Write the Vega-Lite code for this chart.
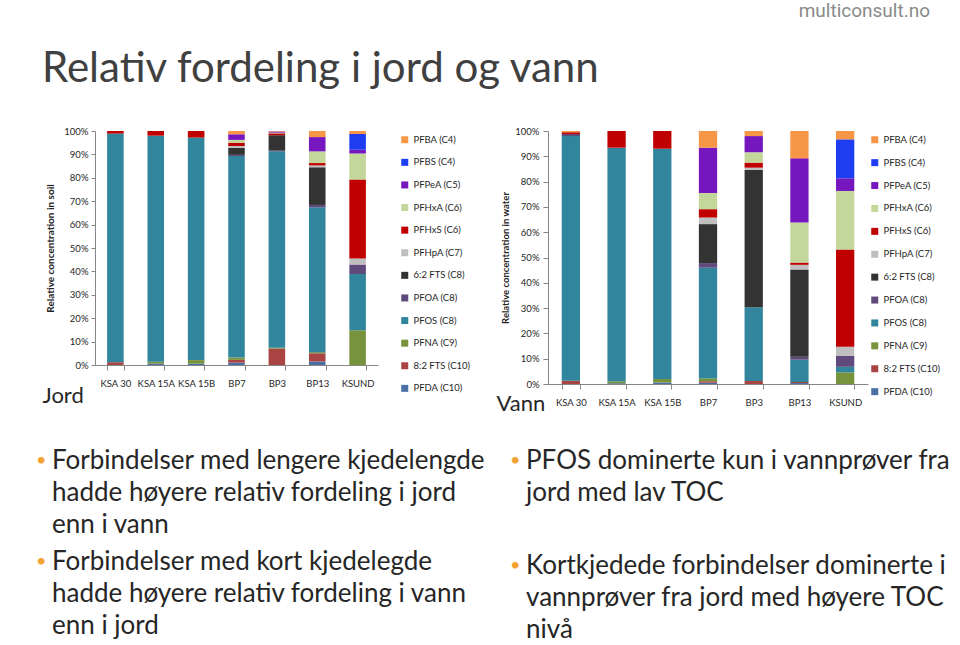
{
  "$schema": "https://vega.github.io/schema/vega-lite/v6.json",
  "background": "white",
  "padding": {"left": 36, "top": 2, "right": 0, "bottom": 0},
  "config": {
    "view": {"stroke": null},
    "font": "Lato",
    "axis": {"labelFont": "Lato", "titleFont": "Lato", "domainColor": "#868686", "tickColor": "#868686", "labelColor": "#262626", "titleColor": "#262626", "grid": false},
    "legend": {"labelFont": "Lato", "labelColor": "#262626", "symbolType": "square", "symbolSize": 49, "symbolStrokeWidth": 0, "labelFontSize": 9.5, "labelOffset": 4, "padding": 4}
  },
  "datasets": {
    "compounds": [
      {"compound": "PFBA (C4)", "rank": 1},
      {"compound": "PFBS (C4)", "rank": 2},
      {"compound": "PFPeA (C5)", "rank": 3},
      {"compound": "PFHxA (C6)", "rank": 4},
      {"compound": "PFHxS (C6)", "rank": 5},
      {"compound": "PFHpA (C7)", "rank": 6},
      {"compound": "6:2 FTS (C8)", "rank": 7},
      {"compound": "PFOA (C8)", "rank": 8},
      {"compound": "PFOS (C8)", "rank": 9},
      {"compound": "PFNA (C9)", "rank": 10},
      {"compound": "8:2 FTS (C10)", "rank": 11},
      {"compound": "PFDA (C10)", "rank": 12}
    ],
    "soil": [
      {"sample": "KSA 30", "compound": "8:2 FTS (C10)", "pct": 1.2},
      {"sample": "KSA 30", "compound": "PFOS (C8)", "pct": 97.7},
      {"sample": "KSA 30", "compound": "PFHxS (C6)", "pct": 1.1},
      {"sample": "KSA 15A", "compound": "PFDA (C10)", "pct": 0.6},
      {"sample": "KSA 15A", "compound": "PFNA (C9)", "pct": 0.8},
      {"sample": "KSA 15A", "compound": "PFOS (C8)", "pct": 96.6},
      {"sample": "KSA 15A", "compound": "PFHxS (C6)", "pct": 2.0},
      {"sample": "KSA 15B", "compound": "PFDA (C10)", "pct": 0.6},
      {"sample": "KSA 15B", "compound": "PFNA (C9)", "pct": 1.5},
      {"sample": "KSA 15B", "compound": "PFOS (C8)", "pct": 95.1},
      {"sample": "KSA 15B", "compound": "PFHxS (C6)", "pct": 2.8},
      {"sample": "BP7", "compound": "PFDA (C10)", "pct": 1.0},
      {"sample": "BP7", "compound": "8:2 FTS (C10)", "pct": 1.2},
      {"sample": "BP7", "compound": "PFNA (C9)", "pct": 1.0},
      {"sample": "BP7", "compound": "PFOS (C8)", "pct": 86.1},
      {"sample": "BP7", "compound": "PFOA (C8)", "pct": 0.5},
      {"sample": "BP7", "compound": "6:2 FTS (C8)", "pct": 3.0},
      {"sample": "BP7", "compound": "PFHpA (C7)", "pct": 0.8},
      {"sample": "BP7", "compound": "PFHxS (C6)", "pct": 1.4},
      {"sample": "BP7", "compound": "PFHxA (C6)", "pct": 1.2},
      {"sample": "BP7", "compound": "PFPeA (C5)", "pct": 2.4},
      {"sample": "BP7", "compound": "PFBA (C4)", "pct": 1.4},
      {"sample": "BP3", "compound": "8:2 FTS (C10)", "pct": 7.0},
      {"sample": "BP3", "compound": "PFNA (C9)", "pct": 0.4},
      {"sample": "BP3", "compound": "PFOS (C8)", "pct": 83.9},
      {"sample": "BP3", "compound": "PFOA (C8)", "pct": 0.3},
      {"sample": "BP3", "compound": "6:2 FTS (C8)", "pct": 6.6},
      {"sample": "BP3", "compound": "PFHxS (C6)", "pct": 0.8},
      {"sample": "BP3", "compound": "PFHxA (C6)", "pct": 0.3},
      {"sample": "BP3", "compound": "PFPeA (C5)", "pct": 0.5},
      {"sample": "BP3", "compound": "PFBA (C4)", "pct": 0.2},
      {"sample": "BP13", "compound": "PFDA (C10)", "pct": 1.5},
      {"sample": "BP13", "compound": "8:2 FTS (C10)", "pct": 3.5},
      {"sample": "BP13", "compound": "PFNA (C9)", "pct": 0.5},
      {"sample": "BP13", "compound": "PFOS (C8)", "pct": 61.9},
      {"sample": "BP13", "compound": "PFOA (C8)", "pct": 1.0},
      {"sample": "BP13", "compound": "6:2 FTS (C8)", "pct": 16.1},
      {"sample": "BP13", "compound": "PFHpA (C7)", "pct": 0.8},
      {"sample": "BP13", "compound": "PFHxS (C6)", "pct": 1.0},
      {"sample": "BP13", "compound": "PFHxA (C6)", "pct": 5.0},
      {"sample": "BP13", "compound": "PFPeA (C5)", "pct": 6.1},
      {"sample": "BP13", "compound": "PFBA (C4)", "pct": 2.6},
      {"sample": "KSUND", "compound": "PFNA (C9)", "pct": 14.9},
      {"sample": "KSUND", "compound": "PFOS (C8)", "pct": 24.0},
      {"sample": "KSUND", "compound": "PFOA (C8)", "pct": 4.0},
      {"sample": "KSUND", "compound": "PFHpA (C7)", "pct": 2.6},
      {"sample": "KSUND", "compound": "PFHxS (C6)", "pct": 33.8},
      {"sample": "KSUND", "compound": "PFHxA (C6)", "pct": 11.1},
      {"sample": "KSUND", "compound": "PFPeA (C5)", "pct": 1.6},
      {"sample": "KSUND", "compound": "PFBS (C4)", "pct": 6.7},
      {"sample": "KSUND", "compound": "PFBA (C4)", "pct": 1.3}
    ],
    "water": [
      {"sample": "KSA 30", "compound": "8:2 FTS (C10)", "pct": 1.3},
      {"sample": "KSA 30", "compound": "PFOS (C8)", "pct": 96.7},
      {"sample": "KSA 30", "compound": "PFOA (C8)", "pct": 0.8},
      {"sample": "KSA 30", "compound": "PFHxS (C6)", "pct": 0.7},
      {"sample": "KSA 30", "compound": "PFBA (C4)", "pct": 0.5},
      {"sample": "KSA 15A", "compound": "PFDA (C10)", "pct": 0.3},
      {"sample": "KSA 15A", "compound": "PFNA (C9)", "pct": 0.8},
      {"sample": "KSA 15A", "compound": "PFOS (C8)", "pct": 92.3},
      {"sample": "KSA 15A", "compound": "PFHxS (C6)", "pct": 6.6},
      {"sample": "KSA 15B", "compound": "PFDA (C10)", "pct": 0.6},
      {"sample": "KSA 15B", "compound": "PFNA (C9)", "pct": 1.4},
      {"sample": "KSA 15B", "compound": "PFOS (C8)", "pct": 91.0},
      {"sample": "KSA 15B", "compound": "PFHxS (C6)", "pct": 7.0},
      {"sample": "BP7", "compound": "PFDA (C10)", "pct": 0.5},
      {"sample": "BP7", "compound": "8:2 FTS (C10)", "pct": 0.6},
      {"sample": "BP7", "compound": "PFNA (C9)", "pct": 1.1},
      {"sample": "BP7", "compound": "PFOS (C8)", "pct": 43.8},
      {"sample": "BP7", "compound": "PFOA (C8)", "pct": 1.8},
      {"sample": "BP7", "compound": "6:2 FTS (C8)", "pct": 15.4},
      {"sample": "BP7", "compound": "PFHpA (C7)", "pct": 2.6},
      {"sample": "BP7", "compound": "PFHxS (C6)", "pct": 3.3},
      {"sample": "BP7", "compound": "PFHxA (C6)", "pct": 6.4},
      {"sample": "BP7", "compound": "PFPeA (C5)", "pct": 17.9},
      {"sample": "BP7", "compound": "PFBA (C4)", "pct": 6.6},
      {"sample": "BP3", "compound": "8:2 FTS (C10)", "pct": 1.2},
      {"sample": "BP3", "compound": "PFOS (C8)", "pct": 29.1},
      {"sample": "BP3", "compound": "6:2 FTS (C8)", "pct": 54.4},
      {"sample": "BP3", "compound": "PFHpA (C7)", "pct": 0.8},
      {"sample": "BP3", "compound": "PFHxS (C6)", "pct": 2.0},
      {"sample": "BP3", "compound": "PFHxA (C6)", "pct": 4.1},
      {"sample": "BP3", "compound": "PFPeA (C5)", "pct": 6.4},
      {"sample": "BP3", "compound": "PFBA (C4)", "pct": 2.0},
      {"sample": "BP13", "compound": "PFDA (C10)", "pct": 0.4},
      {"sample": "BP13", "compound": "8:2 FTS (C10)", "pct": 0.4},
      {"sample": "BP13", "compound": "PFOS (C8)", "pct": 8.8},
      {"sample": "BP13", "compound": "PFOA (C8)", "pct": 1.2},
      {"sample": "BP13", "compound": "6:2 FTS (C8)", "pct": 34.5},
      {"sample": "BP13", "compound": "PFHpA (C7)", "pct": 1.8},
      {"sample": "BP13", "compound": "PFHxS (C6)", "pct": 0.9},
      {"sample": "BP13", "compound": "PFHxA (C6)", "pct": 15.8},
      {"sample": "BP13", "compound": "PFPeA (C5)", "pct": 25.4},
      {"sample": "BP13", "compound": "PFBA (C4)", "pct": 10.8},
      {"sample": "KSUND", "compound": "PFNA (C9)", "pct": 4.6},
      {"sample": "KSUND", "compound": "PFOS (C8)", "pct": 2.2},
      {"sample": "KSUND", "compound": "PFOA (C8)", "pct": 4.4},
      {"sample": "KSUND", "compound": "PFHpA (C7)", "pct": 3.5},
      {"sample": "KSUND", "compound": "PFHxS (C6)", "pct": 38.5},
      {"sample": "KSUND", "compound": "PFHxA (C6)", "pct": 23.1},
      {"sample": "KSUND", "compound": "PFPeA (C5)", "pct": 5.0},
      {"sample": "KSUND", "compound": "PFBS (C4)", "pct": 15.4},
      {"sample": "KSUND", "compound": "PFBA (C4)", "pct": 3.3}
    ],
    "notes": [
      {"col": "left", "para": 1, "text": "Forbindelser med lengere kjedelengde\nhadde høyere relativ fordeling i jord\nenn i vann"},
      {"col": "left", "para": 2, "text": "Forbindelser med kort kjedelegde\nhadde høyere relativ fordeling i vann\nenn i jord"},
      {"col": "right", "para": 1, "text": "PFOS dominerte kun i vannprøver fra\njord med lav TOC"},
      {"col": "right", "para": 2, "text": "Kortkjedede forbindelser dominerte i\nvannprøver fra jord med høyere TOC\nnivå"}
    ]
  },
  "columns": 2,
  "bounds": "flush",
  "spacing": {"row": 64, "column": 170},
  "resolve": {"scale": {"color": "independent", "x": "independent", "y": "independent"}, "legend": {"color": "independent"}},
  "concat": [
    {
      "title": {"text": "Relativ fordeling i jord og vann", "anchor": "start", "font": "Lato", "fontSize": 42, "fontWeight": "normal", "color": "#404040", "offset": 35},
      "width": 283,
      "height": 234,
      "data": {"name": "soil"},
      "transform": [{"lookup": "compound", "from": {"data": {"name": "compounds"}, "key": "compound", "fields": ["rank"]}}],
      "mark": {"type": "bar"},
      "encoding": {
        "x": {"field": "sample", "type": "nominal", "sort": ["KSA 30", "KSA 15A", "KSA 15B", "BP7", "BP3", "BP13", "KSUND"], "scale": {"paddingInner": 0.59, "paddingOuter": 0.3},
          "axis": {"title": "Jord", "titleFontSize": 22, "titleFontWeight": "normal", "titleAnchor": "start", "titleAlign": "left", "titleBaseline": "middle", "titleX": -53, "titleY": 30, "labelAngle": 0, "labelFontSize": 9.5, "labelPadding": 8, "tickBand": "extent", "tickSize": 5}},
        "y": {"field": "pct", "type": "quantitative", "stack": "normalize", "scale": {"domain": [0, 1]},
          "axis": {"format": ".0%", "values": [0, 0.1, 0.2, 0.3, 0.4, 0.5, 0.6, 0.7, 0.8, 0.9, 1], "title": "Relative concentration in soil", "titleFontSize": 10, "titleFontWeight": "bold", "titlePadding": 8, "labelFontSize": 9.5, "tickSize": 4, "labelPadding": 3}},
        "color": {"field": "compound", "type": "nominal",
          "scale": {"domain": ["PFBA (C4)", "PFBS (C4)", "PFPeA (C5)", "PFHxA (C6)", "PFHxS (C6)", "PFHpA (C7)", "6:2 FTS (C8)", "PFOA (C8)", "PFOS (C8)", "PFNA (C9)", "8:2 FTS (C10)", "PFDA (C10)"],
            "range": ["#F79646", "#1E3CF0", "#7616BE", "#C4D79B", "#C00000", "#BFBFBF", "#333333", "#604A7B", "#31859C", "#77933C", "#A94442", "#4A6FA5"]},
          "legend": {"title": null, "rowPadding": 11.6, "offset": 18}},
        "order": {"field": "rank", "type": "quantitative", "sort": "descending"}
      }
    },
    {
      "title": {"text": "multiconsult.no", "anchor": "end", "font": "Roboto, sans-serif", "fontSize": 19, "fontWeight": "normal", "color": "#8a8a8a", "offset": 105, "dx": -15},
      "width": 320,
      "height": 253,
      "data": {"name": "water"},
      "transform": [{"lookup": "compound", "from": {"data": {"name": "compounds"}, "key": "compound", "fields": ["rank"]}}],
      "mark": {"type": "bar"},
      "encoding": {
        "x": {"field": "sample", "type": "nominal", "sort": ["KSA 30", "KSA 15A", "KSA 15B", "BP7", "BP3", "BP13", "KSUND"], "scale": {"paddingInner": 0.6, "paddingOuter": 0.3},
          "axis": {"title": "Vann", "titleFontSize": 22, "titleFontWeight": "normal", "titleAnchor": "start", "titleAlign": "left", "titleBaseline": "middle", "titleX": -52, "titleY": 19, "labelAngle": 0, "labelFontSize": 9.5, "labelPadding": 8, "tickBand": "extent", "tickSize": 5}},
        "y": {"field": "pct", "type": "quantitative", "stack": "normalize", "scale": {"domain": [0, 1]},
          "axis": {"format": ".0%", "values": [0, 0.1, 0.2, 0.3, 0.4, 0.5, 0.6, 0.7, 0.8, 0.9, 1], "title": "Relative concentration in water", "titleFontSize": 9.5, "titleFontWeight": "bold", "titlePadding": 4, "labelFontSize": 9.5, "tickSize": 5, "labelPadding": 4}},
        "color": {"field": "compound", "type": "nominal",
          "scale": {"domain": ["PFBA (C4)", "PFBS (C4)", "PFPeA (C5)", "PFHxA (C6)", "PFHxS (C6)", "PFHpA (C7)", "6:2 FTS (C8)", "PFOA (C8)", "PFOS (C8)", "PFNA (C9)", "8:2 FTS (C10)", "PFDA (C10)"],
            "range": ["#F79646", "#1E3CF0", "#7616BE", "#C4D79B", "#C00000", "#BFBFBF", "#333333", "#604A7B", "#31859C", "#77933C", "#A94442", "#4A6FA5"]},
          "legend": {"title": null, "rowPadding": 11.9, "offset": -2}},
        "order": {"field": "rank", "type": "quantitative", "sort": "descending"}
      }
    },
    {
      "width": 283,
      "height": 150,
      "data": {"name": "notes"},
      "transform": [{"filter": {"field": "col", "equal": "left"}}],
      "encoding": {
        "x": {"field": "col", "type": "nominal", "scale": {"type": "point", "range": [-59, -59], "padding": 0}, "axis": null},
        "y": {"field": "para", "type": "ordinal", "scale": {"type": "point", "domain": [1, 2], "range": [0, 101], "padding": 0}, "axis": null}
      },
      "layer": [
        {"mark": {"type": "text", "text": "•", "color": "#F4A234", "fontSize": 18, "align": "left", "baseline": "top", "dy": 4, "font": "Lato"}},
        {"mark": {"type": "text", "align": "left", "baseline": "top", "fontSize": 26, "lineHeight": 32, "lineBreak": "\n", "dx": 16, "color": "#262626", "font": "Lato"}, "encoding": {"text": {"field": "text"}}}
      ]
    },
    {
      "width": 320,
      "height": 150,
      "data": {"name": "notes"},
      "transform": [{"filter": {"field": "col", "equal": "right"}}],
      "encoding": {
        "x": {"field": "col", "type": "nominal", "scale": {"type": "point", "range": [-38, -38], "padding": 0}, "axis": null},
        "y": {"field": "para", "type": "ordinal", "scale": {"type": "point", "domain": [1, 2], "range": [0, 105], "padding": 0}, "axis": null}
      },
      "layer": [
        {"mark": {"type": "text", "text": "•", "color": "#F4A234", "fontSize": 18, "align": "left", "baseline": "top", "dy": 4, "font": "Lato"}},
        {"mark": {"type": "text", "align": "left", "baseline": "top", "fontSize": 26, "lineHeight": 32, "lineBreak": "\n", "dx": 16, "color": "#262626", "font": "Lato"}, "encoding": {"text": {"field": "text"}}}
      ]
    }
  ]
}
